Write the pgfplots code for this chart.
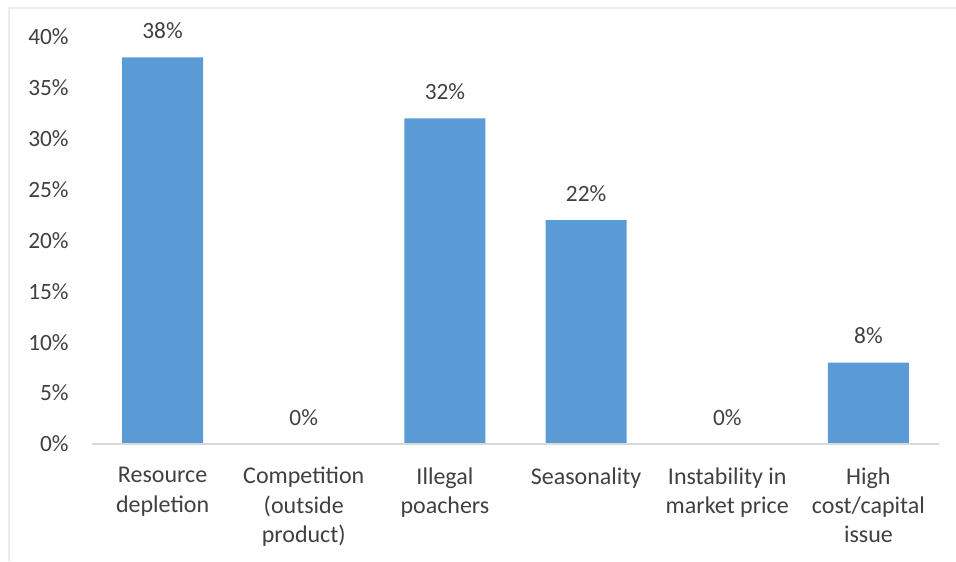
\documentclass[border=0pt]{standalone}
\usepackage{pgfplots}
\pgfplotsset{compat=1.18}
\usepackage{fontspec}
\setmainfont{Carlito}
\definecolor{barblue}{HTML}{5B9BD5}
\definecolor{txt}{HTML}{404040}
\definecolor{axgray}{HTML}{D9D9D9}
\begin{document}
\begin{tikzpicture}[x=1pt,y=1pt]
\path[use as bounding box] (-69,-87.75) rectangle (648,333);
\draw[color=gray!15, line width=0.8pt] (-62.25,-87.75) -- (-62.25,327) -- (648,327);
\begin{axis}[
  at={(0,0)}, anchor=south west,
  scale only axis,
  width=635.25pt, height=305.25pt,
  ymin=0, ymax=40,
  xmin=-0.5, xmax=5.5,
  ybar, bar width=60.75pt,
  axis x line*=bottom,
  axis y line*=left,
  axis line style={draw=none},
  ytick={0,5,...,40},
  yticklabel={\pgfmathprintnumber{\tick}\%},
  yticklabel style={text=txt, font=\fontsize{17.5}{20}\selectfont, xshift=-14pt},
  xtick=data,
  xticklabels={{Resource\\depletion},{Competition\\(outside\\product)},{Illegal\\poachers},{Seasonality},{Instability in\\market price},{High\\cost/capital\\issue}},
  xticklabel style={align=center, text=txt, font=\fontsize{18}{22}\selectfont, yshift=-14pt},
  major tick length=0pt,
  /pgf/number format/assume math mode=true,
  nodes near coords={\pgfmathprintnumber{\pgfplotspointmeta}\%},
  every node near coord/.append style={text=txt, font=\fontsize{17.5}{20}\selectfont, yshift=10.5pt},
  clip=false,
]
\addplot[fill=barblue, draw=none] coordinates {(0,38) (1,0) (2,32) (3,22) (4,0) (5,8)};
\draw[axgray, line width=1.5pt] (axis cs:-0.5,0) -- (axis cs:5.5,0);
\end{axis}
\end{tikzpicture}
\end{document}
